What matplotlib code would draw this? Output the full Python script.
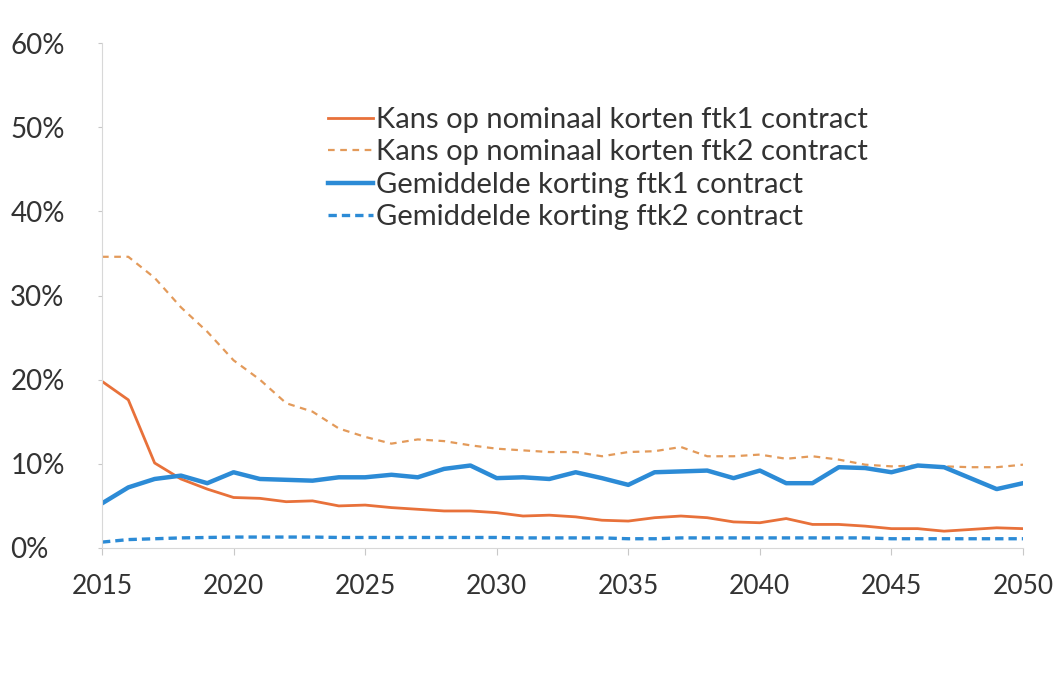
import matplotlib
matplotlib.use("Agg")
import matplotlib.pyplot as plt
from matplotlib.ticker import FuncFormatter

years = list(range(2015, 2051))

kans_ftk1 = [19.8, 17.6, 10.1, 8.2, 7.0, 6.0, 5.9, 5.5, 5.6, 5.0, 5.1, 4.8, 4.6, 4.4, 4.4, 4.2,
             3.8, 3.9, 3.7, 3.3, 3.2, 3.6, 3.8, 3.6, 3.1, 3.0, 3.5, 2.8, 2.8, 2.6, 2.3, 2.3,
             2.0, 2.2, 2.4, 2.3]
kans_ftk2 = [34.6, 34.6, 32.1, 28.6, 25.7, 22.3, 20.0, 17.2, 16.2, 14.2, 13.2, 12.4, 12.9, 12.7,
             12.2, 11.8, 11.6, 11.4, 11.4, 10.9, 11.4, 11.5, 12.0, 10.9, 10.9, 11.1, 10.6, 10.9,
             10.5, 9.9, 9.7, 9.8, 9.7, 9.6, 9.6, 9.9]
korting_ftk1 = [5.3, 7.2, 8.2, 8.6, 7.7, 9.0, 8.2, 8.1, 8.0, 8.4, 8.4, 8.7, 8.4, 9.4, 9.8, 8.3,
                8.4, 8.2, 9.0, 8.3, 7.5, 9.0, 9.1, 9.2, 8.3, 9.2, 7.7, 7.7, 9.6, 9.5, 9.0, 9.8,
                9.6, 8.3, 7.0, 7.7]
korting_ftk2 = [0.7, 1.0, 1.1, 1.2, 1.25, 1.3, 1.3, 1.3, 1.3, 1.25, 1.25, 1.25, 1.25, 1.25, 1.25,
                1.25, 1.2, 1.2, 1.2, 1.2, 1.1, 1.1, 1.2, 1.2, 1.2, 1.2, 1.2, 1.2, 1.2, 1.2, 1.1,
                1.1, 1.1, 1.1, 1.1, 1.1]

labels = ["Kans op nominaal korten ftk1 contract",
          "Kans op nominaal korten ftk2 contract",
          "Gemiddelde korting ftk1 contract",
          "Gemiddelde korting ftk2 contract"]

xticks = [2015, 2020, 2025, 2030, 2035, 2040, 2045, 2050]
yticks = [0, 10, 20, 30, 40, 50, 60]

plt.rcParams['font.family'] = ['Lato', 'DejaVu Sans']

fig = plt.figure(figsize=(10.53, 6.91), dpi=100)
ax = fig.add_axes([102/1053, 1 - 548/691, (1023 - 102)/1053, (548 - 43)/691])

ax.plot(years, kans_ftk1, color='#E8713A', lw=2.0, label=labels[0])
ax.plot(years, kans_ftk2, color='#E39A5A', lw=1.6, ls=(0, (3, 2.5)), label=labels[1])
ax.plot(years, korting_ftk1, color='#2C8BD6', lw=3.2, label=labels[2])
ax.plot(years, korting_ftk2, color='#2C8BD6', lw=2.4, ls=(0, (2.5, 1.5)), label=labels[3])

ax.set_xlim(2015, 2050)
ax.set_ylim(0, 60)
ax.set_xticks(xticks)
ax.set_yticks(yticks)
ax.yaxis.set_major_formatter(FuncFormatter(lambda v, p: f"{int(v)}%"))

for s in ['top', 'right']:
    ax.spines[s].set_visible(False)
for s in ['left', 'bottom']:
    ax.spines[s].set_color('#d8d8d8')
    ax.spines[s].set_linewidth(0.8)

ax.tick_params(axis='x', length=5, color='#c8c8c8', labelsize=19, pad=14, labelcolor='#333333')
ax.tick_params(axis='y', length=3, color='#c8c8c8', labelsize=20, pad=63, labelcolor='#333333')
for t in ax.get_yticklabels():
    t.set_horizontalalignment('left')

leg = ax.legend(loc='upper left', bbox_to_anchor=(328/1053, 1 - 107/691),
                bbox_transform=fig.transFigure, frameon=False, fontsize=21,
                handlelength=1.55, handletextpad=0.1, labelspacing=0.22, borderpad=0,
                borderaxespad=0)
for t in leg.get_texts():
    t.set_color('#333333')

fig.savefig('out.png', dpi=100, facecolor='white')
